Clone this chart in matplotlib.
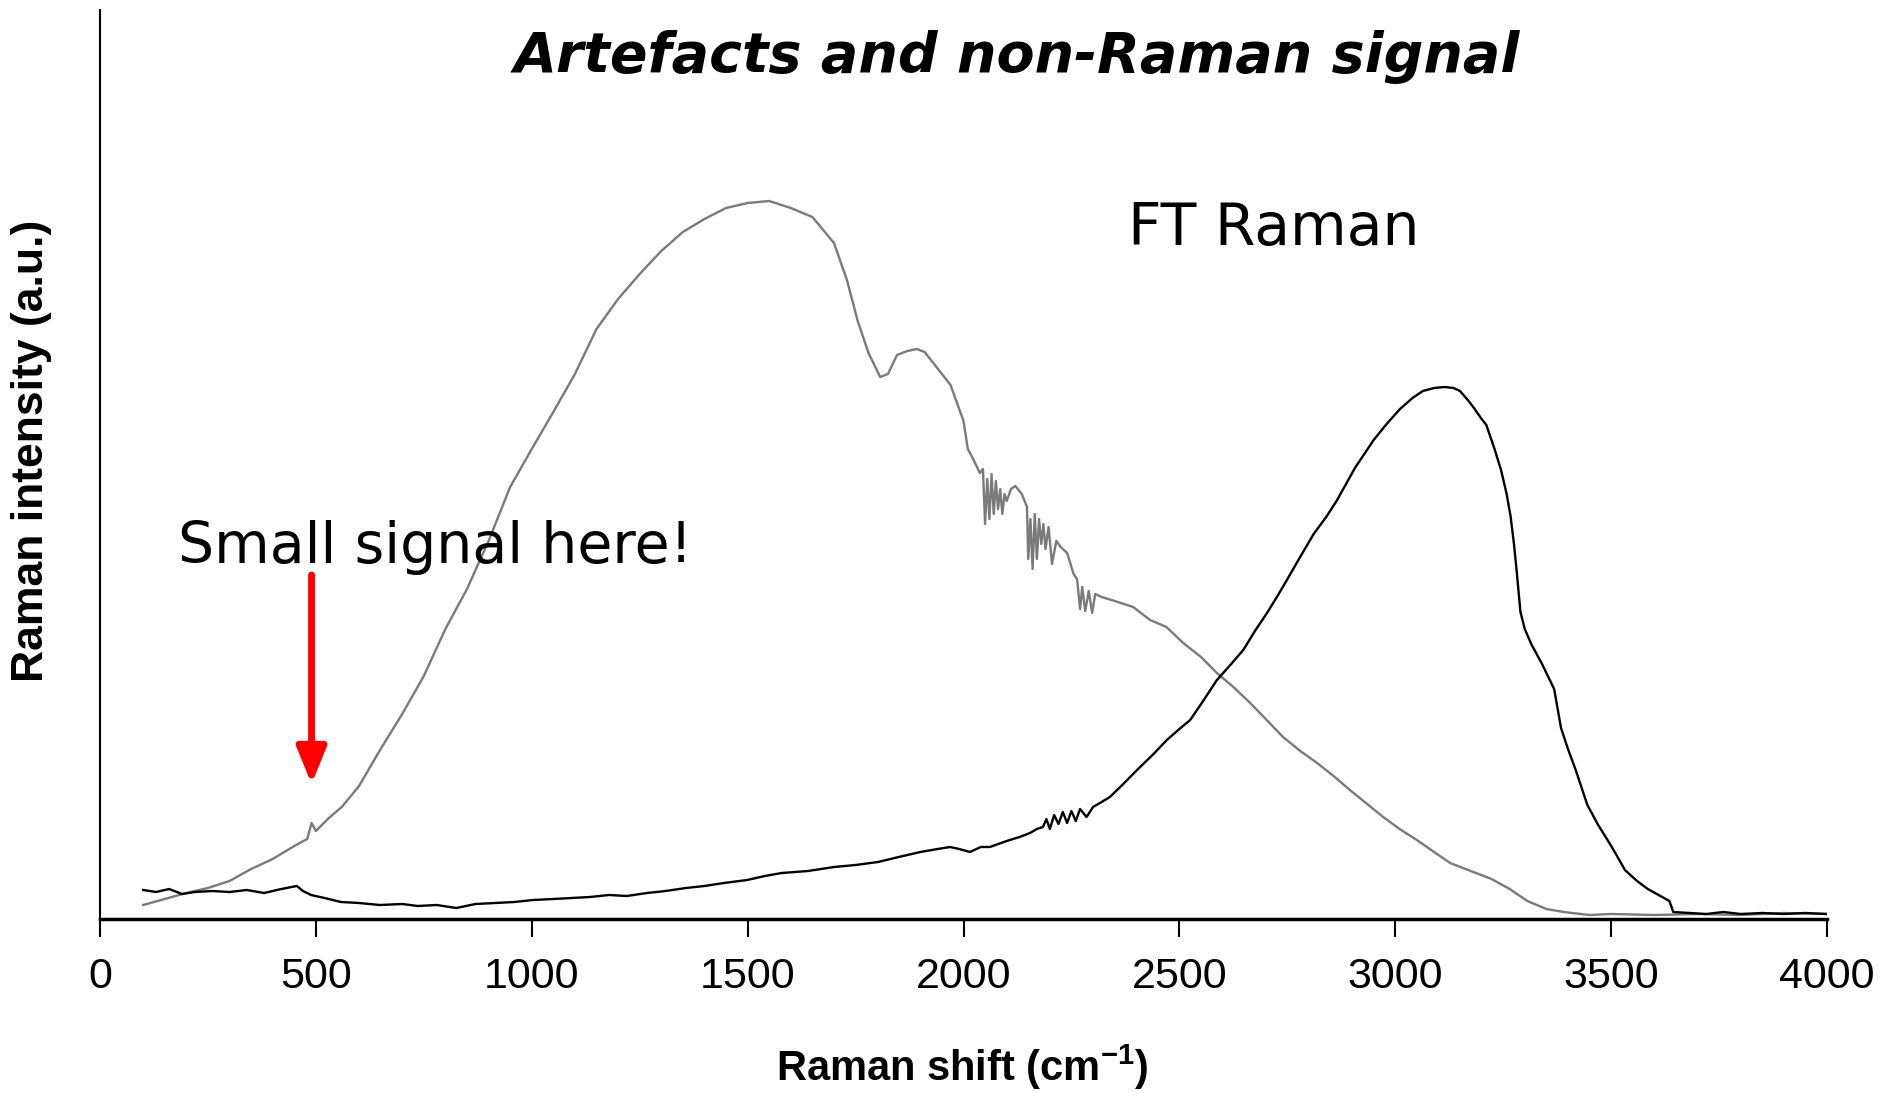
import matplotlib
matplotlib.use("Agg")
import matplotlib.pyplot as plt

# ---- data ----
gray_x = [100, 150, 200, 250, 300, 350, 400, 450, 480, 490, 500, 530, 560, 600, 650, 700, 750, 800, 850, 900,
          950, 1000, 1050, 1100, 1150, 1200, 1250, 1300, 1350, 1400, 1450, 1500, 1550, 1600, 1650, 1700, 1730,
          1755, 1780, 1807, 1825, 1846, 1870, 1892, 1910, 1930, 1970, 2000, 2010, 2020, 2038,
          2045, 2050, 2055, 2060, 2065, 2070, 2075, 2080, 2085, 2090, 2095, 2100, 2110, 2120, 2135, 2147,
          2150, 2155, 2160, 2165, 2170, 2175, 2180, 2185, 2190, 2197, 2205, 2215, 2225, 2240, 2255, 2263,
          2270, 2275, 2282, 2290, 2298, 2305, 2320, 2350, 2393, 2432, 2470, 2509, 2550, 2587, 2625, 2664,
          2700, 2740, 2780, 2819, 2860, 2895, 2935, 2972, 3010, 3050, 3090, 3127, 3175, 3223, 3265, 3306,
          3350, 3390, 3450, 3500, 3600, 3700, 3800, 3900, 4000]
gray_y = [14, 20, 26, 31, 38, 50, 60, 73, 80, 96, 88, 101, 112, 133, 170, 205, 243, 290, 330, 378,
          432, 470, 507, 545, 590, 620, 645, 668, 687, 700, 711, 716, 718, 711, 702, 676, 639,
          598, 566, 542, 545, 564, 568, 570, 567, 556, 534, 498, 470, 462, 446,
          450, 395, 440, 400, 445, 405, 438, 410, 430, 405, 425, 418, 430, 433, 425, 412,
          360, 400, 350, 405, 360, 400, 375, 395, 370, 392, 355, 378, 372, 366, 345, 340,
          310, 332, 308, 328, 306, 325, 322, 318, 312, 299, 292, 276, 262, 246, 232, 216,
          200, 182, 168, 156, 142, 129, 115, 102, 90, 79, 67, 56, 48, 40, 30, 18,
          10, 7, 4, 5, 4, 5, 4, 6, 5]

black_x = [100, 130, 160, 190, 220, 260, 300, 340, 380, 420, 456, 470, 489, 520, 558, 600, 648, 700, 736,
           780, 825, 870, 913, 960, 1003, 1050, 1091, 1135, 1179, 1220, 1267, 1310, 1357, 1400, 1445, 1499,
           1540, 1579, 1640, 1700, 1750, 1802, 1850, 1900, 1940, 1969, 1990, 2015, 2040, 2061, 2100, 2130,
           2154, 2170, 2184, 2192, 2200, 2210, 2220, 2230, 2240, 2250, 2260, 2270, 2285, 2300, 2320, 2339,
           2370, 2402, 2440, 2471, 2500, 2525, 2555, 2587, 2620, 2648, 2675, 2703, 2730, 2749, 2777, 2811,
           2840, 2864, 2890, 2908, 2930, 2950, 2980, 3011, 3040, 3064, 3090, 3114, 3135, 3150, 3170, 3184,
           3200, 3211, 3230, 3245, 3258, 3267, 3275, 3281, 3290, 3300, 3315, 3340, 3368, 3384, 3400, 3418,
           3445, 3470, 3496, 3515, 3532, 3560, 3585, 3610, 3635, 3644, 3680, 3720, 3760, 3800, 3850, 3900,
           3950, 4000]
black_y = [29, 27, 30, 25, 27, 28, 27, 29, 26, 30, 33, 28, 24, 21, 17, 16, 14, 15, 13,
           14, 11, 15, 16, 17, 19, 20, 21, 22, 24, 23, 26, 28, 31, 33, 36, 39,
           43, 46, 48, 52, 54, 57, 62, 67, 70, 72, 70, 67, 72, 72, 78, 82,
           86, 90, 92, 100, 90, 104, 95, 107, 96, 108, 98, 110, 102, 112, 117, 122,
           135, 149, 165, 179, 190, 199, 218, 239, 255, 269, 288, 306, 325, 339, 360, 385,
           402, 418, 438, 452, 466, 479, 495, 510, 521, 528, 531, 532, 531, 528, 518, 510,
           500, 494, 470, 449, 425, 403, 375, 349, 307, 290, 275, 255, 230, 191, 170, 149,
           114, 94, 76, 62, 49, 38, 30, 24, 18, 7, 6, 5, 7, 5, 6, 5,
           6, 5]

xticks = [0, 500, 1000, 1500, 2000, 2500, 3000, 3500, 4000]
arrow_x = 490
arrow_y = (344, 135)

title = "Artefacts and non-Raman signal"
note_main = "FT Raman"
note_arrow = "Small signal here!"

# ---- figure ----
fig = plt.figure(figsize=(18.86, 10.93), dpi=100)
ax = fig.add_axes([100 / 1886, 1 - 919 / 1093, 1727 / 1886, 909 / 1093])

ax.plot(gray_x, gray_y, color="#7a7a7a", lw=1.7)
ax.plot(black_x, black_y, color="black", lw=1.7)

ax.set_xlim(0, 4000)
ax.set_ylim(0, 909)
ax.set_xticks(xticks)
ax.set_xticklabels([str(t) for t in xticks], fontfamily="Liberation Sans", fontsize=31)
ax.set_yticks([])
ax.tick_params(axis="x", direction="out", length=13, width=1.5, pad=14, colors="black")

for s in ["top", "right"]:
    ax.spines[s].set_visible(False)
ax.spines["left"].set_linewidth(1.5)
ax.spines["bottom"].set_linewidth(2.5)

ax.annotate("", xy=(arrow_x, arrow_y[1]), xytext=(arrow_x, arrow_y[0]),
            arrowprops=dict(arrowstyle="-|>,head_width=0.45,head_length=1.1",
                            mutation_scale=20, lw=5, color="#ff0000",
                            shrinkA=0, shrinkB=0))

fig.text(1017 / 1886, 1 - 72 / 1093, title, ha="center", va="baseline",
         fontfamily="DejaVu Sans", fontweight="bold", fontstyle="italic", fontsize=40)
fig.text(1128 / 1886, 1 - 245 / 1093, note_main, ha="left", va="baseline",
         fontfamily="DejaVu Sans", fontsize=42)
fig.text(178 / 1886, 1 - 563 / 1093, note_arrow, ha="left", va="baseline",
         fontfamily="DejaVu Sans", fontsize=41)

plt.rcParams["mathtext.fontset"] = "custom"
plt.rcParams["mathtext.rm"] = "Liberation Sans:bold"
plt.rcParams["mathtext.it"] = "Liberation Sans:bold"
plt.rcParams["mathtext.bf"] = "Liberation Sans:bold"
fig.text(962 / 1886, 1 - 1067 / 1093, r"Raman shift (cm$^{\mathrm{-1}}$)", ha="center", va="center",
         fontfamily="Liberation Sans", fontweight="bold", fontsize=30)
fig.text(32 / 1886, 1 - 451 / 1093, "Raman intensity (a.u.)", ha="center", va="center",
         rotation=90, fontfamily="Liberation Sans", fontweight="bold", fontsize=32)

fig.savefig("out.png", dpi=100, facecolor="white")
